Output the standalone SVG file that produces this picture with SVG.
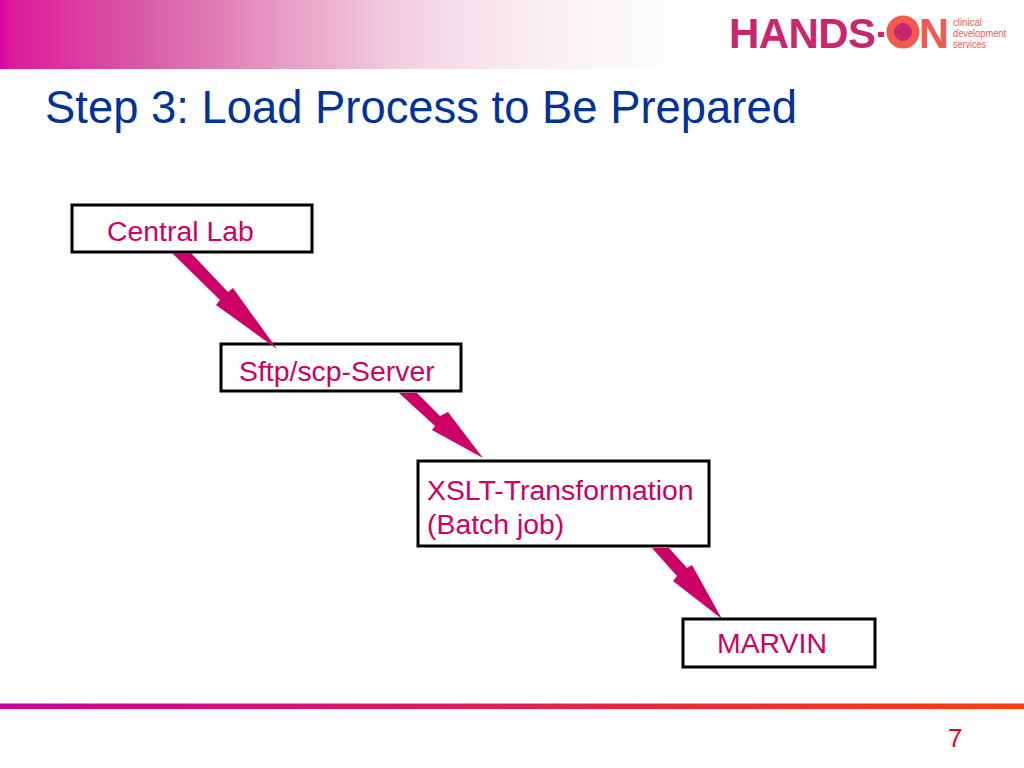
<svg xmlns="http://www.w3.org/2000/svg" width="1024" height="768" viewBox="0 0 1024 768">
<style>
.box{fill:#fff;stroke:#000;stroke-width:3}
.lbl{font-family:"Liberation Sans",Arial,sans-serif;font-size:28.4px;fill:#cc0066}
.arrow{fill:#cc0066}
.logo{font-family:"Liberation Sans",Arial,sans-serif}
</style>
<defs>
<linearGradient id="top" gradientUnits="userSpaceOnUse" x1="0" x2="700" y1="0" y2="0">
<stop offset="0" stop-color="#dd00a0"/>
<stop offset="0.015" stop-color="#dd1a98"/>
<stop offset="0.2" stop-color="#d85aa5"/>
<stop offset="0.43" stop-color="#e8a5c8"/>
<stop offset="0.59" stop-color="#f3d3e3"/>
<stop offset="0.72" stop-color="#f8e8f0"/>
<stop offset="0.85" stop-color="#fbf6f9"/>
<stop offset="1" stop-color="#ffffff"/>
</linearGradient>
<linearGradient id="bar" x1="0" x2="1" y1="0" y2="0">
<stop offset="0" stop-color="#cc0099"/>
<stop offset="1" stop-color="#ff3c0a"/>
</linearGradient>
</defs>
<rect width="1024" height="768" fill="#fff"/>
<rect id="top-band" x="0" y="0" width="700" height="69" fill="url(#top)"/>
<g id="logo">
<text class="logo" x="729" y="48" font-size="42" font-weight="700" fill="#c8266e" textLength="147" lengthAdjust="spacing">HANDS</text>
<text class="logo" x="877" y="46" font-size="42" font-weight="700" fill="#c8266e" textLength="8" lengthAdjust="spacingAndGlyphs">-</text>
<circle cx="903" cy="32" r="12.75" fill="#c8266e" stroke="#f2594f" stroke-width="7.5"/>
<text class="logo" x="919" y="48" font-size="42" font-weight="700" fill="#f2594f" textLength="30" lengthAdjust="spacingAndGlyphs">N</text>
<text class="logo" x="953" y="26" font-size="11.5" fill="#f2594f" textLength="29" lengthAdjust="spacingAndGlyphs">clinical</text>
<text class="logo" x="953" y="37" font-size="11.5" fill="#f2594f" textLength="53" lengthAdjust="spacingAndGlyphs">development</text>
<text class="logo" x="953" y="48" font-size="11.5" fill="#f2594f" textLength="33" lengthAdjust="spacingAndGlyphs">services</text>
</g>
<text id="title" x="45" y="123" font-family="'Liberation Sans',Arial,sans-serif" font-size="45.4" fill="#003399">Step 3: Load Process to Be Prepared</text>
<g id="central-lab"><rect class="box" x="72" y="205" width="240" height="47"/><text class="lbl" x="107" y="241">Central Lab</text></g>
<g id="sftp-server"><rect class="box" x="221" y="344" width="240" height="47"/><text class="lbl" x="239" y="381">Sftp/scp-Server</text></g>
<g id="xslt"><rect class="box" x="418" y="461" width="291" height="85"/><text class="lbl" x="427" y="500">XSLT-Transformation</text><text class="lbl" x="427" y="534">(Batch job)</text></g>
<g id="marvin"><rect class="box" x="683" y="619" width="192" height="48"/><text class="lbl" x="717" y="653">MARVIN</text></g>
<g id="connectors">
<polygon class="arrow" points="172,253 191,253 228,292 233,288 277,349 216,305 220,300"/>
<polygon class="arrow" points="399,393 417,393 440,416 448,412 483,458 432,430 435,426"/>
<polygon class="arrow" points="652,548 669,548 687,568 692,565 722,619 673,581 677,576"/>
</g>
<rect id="bottom-bar" x="0" y="703.5" width="1024" height="5.5" fill="url(#bar)"/>
<text id="page" x="948" y="747" font-family="'Liberation Sans',Arial,sans-serif" font-size="26" fill="#e60028">7</text>
</svg>
